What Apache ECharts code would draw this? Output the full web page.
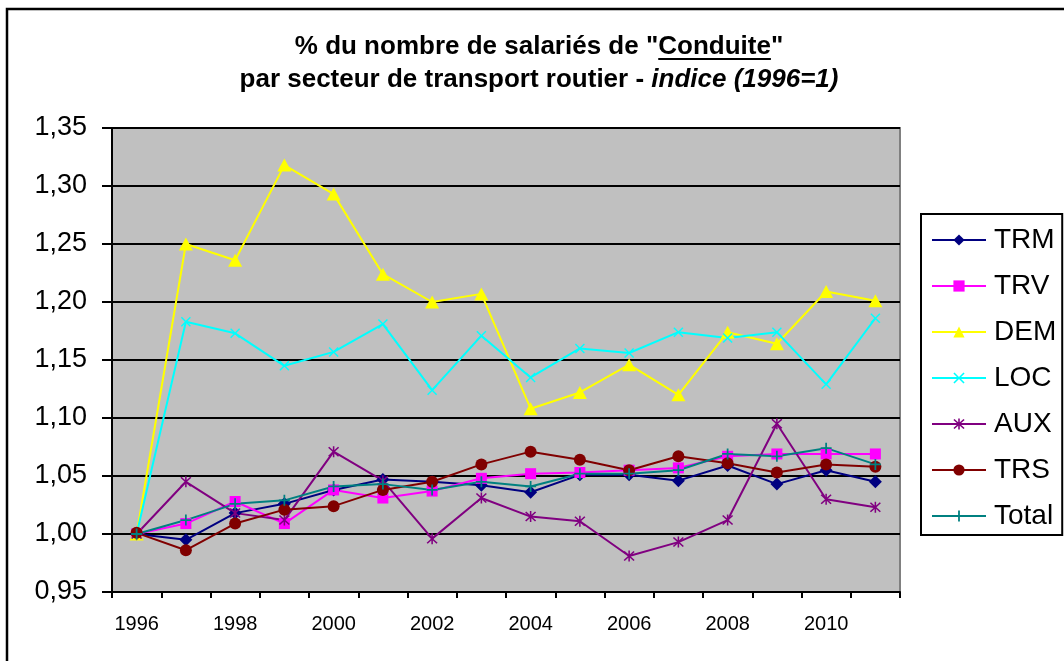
<!DOCTYPE html>
<html>
<head>
<meta charset="utf-8">
<script src="https://cdn.jsdelivr.net/npm/echarts@6/dist/echarts.min.js"></script>
<style>
  html, body { margin: 0; padding: 0; background: #ffffff; }
  #chart { width: 1064px; height: 661px; }
</style>
</head>
<body>
<div id="chart"></div>
<script>
// Years on the category axis
const years = ['1996', '1997', '1998', '1999', '2000', '2001', '2002', '2003',
               '2004', '2005', '2006', '2007', '2008', '2009', '2010', '2011'];

// Index of drivers per road-transport sector (1996 = 1)
const TRM   = [1.000, 0.995, 1.018, 1.026, 1.038, 1.047, 1.045, 1.042, 1.036, 1.051, 1.051, 1.046, 1.059, 1.043, 1.055, 1.045];
const TRV   = [1.000, 1.009, 1.028, 1.009, 1.038, 1.031, 1.037, 1.048, 1.052, 1.053, 1.055, 1.057, 1.067, 1.069, 1.069, 1.069];
const DEM   = [1.000, 1.250, 1.236, 1.318, 1.293, 1.224, 1.200, 1.207, 1.108, 1.122, 1.146, 1.120, 1.174, 1.164, 1.209, 1.201];
const LOC   = [1.000, 1.183, 1.173, 1.145, 1.157, 1.181, 1.124, 1.171, 1.135, 1.160, 1.156, 1.174, 1.169, 1.174, 1.129, 1.186];
const AUX   = [1.000, 1.045, 1.018, 1.012, 1.071, 1.046, 0.996, 1.031, 1.015, 1.011, 0.981, 0.993, 1.012, 1.095, 1.030, 1.023];
const TRS   = [1.001, 0.986, 1.009, 1.021, 1.024, 1.038, 1.045, 1.060, 1.071, 1.064, 1.055, 1.067, 1.061, 1.053, 1.060, 1.058];
const Total = [1.000, 1.012, 1.026, 1.029, 1.041, 1.043, 1.038, 1.045, 1.041, 1.052, 1.052, 1.055, 1.069, 1.067, 1.074, 1.060];

// Value axis range
const yMin = 0.95, yMax = 1.35, yStep = 0.05;

const FONT = "'Liberation Sans', Arial, sans-serif";

// Stroke-like marker shapes built as thin filled outlines
const SYM_X = 'path://M-5,-4L-4,-5L0,-1L4,-5L5,-4L1,0L5,4L4,5L0,1L-4,5L-5,4L-1,0Z';
const SYM_STAR = 'path://M-5,-4L-4,-5L0,-1L4,-5L5,-4L1,0L5,4L4,5L0,1L-4,5L-5,4L-1,0Z' +
                 'M-0.7,-5.5L0.7,-5.5L0.7,5.5L-0.7,5.5Z';
const SYM_PLUS = 'path://M-0.8,-5L0.8,-5L0.8,-0.8L5,-0.8L5,0.8L0.8,0.8L0.8,5L-0.8,5L-0.8,0.8L-5,0.8L-5,-0.8L-0.8,-0.8Z';

function lineSeries(name, data, color, symbol, size) {
  return {
    name: name,
    type: 'line',
    data: data,
    symbol: symbol,
    symbolSize: size,
    showAllSymbol: true,
    animation: false,
    lineStyle: { color: color, width: 2 },
    itemStyle: { color: color },
    emphasis: { disabled: true }
  };
}

// Title: measure pieces so the underline sits under "Conduite"
const titleSize = 26;
const measureCtx = document.createElement('canvas').getContext('2d');
function textWidth(str, italic) {
  measureCtx.font = (italic ? 'italic ' : '') + 'bold ' + titleSize + 'px ' + FONT;
  return measureCtx.measureText(str).width;
}
const t1a = '% du nombre de salariés de "';
const t1b = 'Conduite';
const t1c = '"';
const titleCx = 539;
const t1y = 47, t2y = 80;
const w1a = textWidth(t1a), w1b = textWidth(t1b), w1c = textWidth(t1c);
const t1Start = titleCx - (w1a + w1b + w1c) / 2;

const chart = echarts.init(document.getElementById('chart'), null, { renderer: 'canvas' });

chart.setOption({
  backgroundColor: '#ffffff',
  animation: false,
  textStyle: { fontFamily: FONT },
  grid: {
    left: 112, top: 128, right: 164, bottom: 69,
    show: true,
    backgroundColor: '#c0c0c0',
    borderColor: '#808080',
    borderWidth: 2
  },
  xAxis: {
    type: 'category',
    data: years,
    boundaryGap: true,
    axisLine: { lineStyle: { color: '#000000', width: 2 } },
    axisTick: { show: true, interval: 0, length: 6, lineStyle: { color: '#000000', width: 2 } },
    axisLabel: { interval: 1, color: '#000000', fontSize: 20, margin: 22, fontFamily: FONT },
    splitLine: { show: false }
  },
  yAxis: {
    type: 'value',
    min: yMin,
    max: yMax,
    interval: yStep,
    axisLine: { show: true, lineStyle: { color: '#000000', width: 2 } },
    axisTick: { show: true, length: 10, lineStyle: { color: '#000000', width: 2 } },
    axisLabel: {
      color: '#000000', fontSize: 27, margin: 25, fontFamily: FONT,
      formatter: function (v) { return v.toFixed(2).replace('.', ','); }
    },
    splitLine: { show: true, lineStyle: { color: '#000000', width: 2 } }
  },
  legend: {
    orient: 'vertical',
    left: 921,
    top: 214,
    padding: [12, 6, 5, 10],
    itemGap: 18,
    itemWidth: 54,
    itemHeight: 14,
    backgroundColor: '#ffffff',
    borderColor: '#000000',
    borderWidth: 2,
    textStyle: { color: '#000000', fontSize: 28, fontFamily: FONT, padding: [0, 0, 0, 3] },
    data: ['TRM', 'TRV', 'DEM', 'LOC', 'AUX', 'TRS', 'Total']
  },
  graphic: [
    {
      type: 'rect',
      silent: true,
      shape: { x: 7, y: 9, width: 1200, height: 800 },
      style: { fill: 'none', stroke: '#000000', lineWidth: 2.5 },
      z: 100
    },
    {
      type: 'text',
      silent: true,
      style: {
        x: t1Start, y: t1y,
        text: t1a + t1b + t1c,
        font: 'bold ' + titleSize + 'px ' + FONT,
        fill: '#000000',
        align: 'left',
        verticalAlign: 'middle'
      }
    },
    {
      type: 'line',
      silent: true,
      shape: { x1: t1Start + w1a, y1: t1y + 12, x2: t1Start + w1a + w1b, y2: t1y + 12 },
      style: { stroke: '#000000', lineWidth: 2 }
    },
    {
      type: 'text',
      silent: true,
      style: {
        x: titleCx, y: t2y,
        text: '{n|par secteur de transport routier - }{i|indice (1996=1)}',
        align: 'center',
        verticalAlign: 'middle',
        rich: {
          n: { font: 'bold ' + titleSize + 'px ' + FONT, fill: '#000000' },
          i: { font: 'italic bold ' + titleSize + 'px ' + FONT, fill: '#000000' }
        }
      }
    }
  ],
  series: [
    lineSeries('TRM', TRM, '#000080', 'diamond', 13),
    lineSeries('TRV', TRV, '#ff00ff', 'rect', 11),
    lineSeries('DEM', DEM, '#ffff00', 'triangle', [14, 13]),
    lineSeries('LOC', LOC, '#00ffff', SYM_X, 10),
    lineSeries('AUX', AUX, '#800080', SYM_STAR, 11),
    lineSeries('TRS', TRS, '#800000', 'circle', 12),
    lineSeries('Total', Total, '#008080', SYM_PLUS, 11)
  ]
});
</script>
</body>
</html>
